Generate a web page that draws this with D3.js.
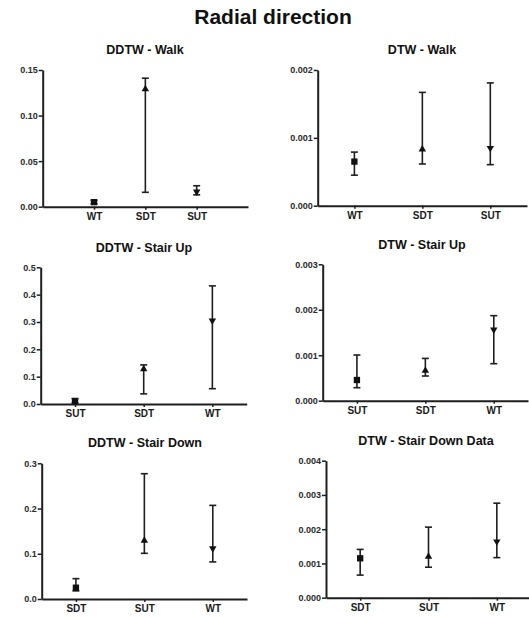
<!DOCTYPE html>
<html>
<head>
<meta charset="utf-8">
<script src="https://cdn.jsdelivr.net/npm/d3@7"></script>
<style>
  body { margin: 0; background: #fff; }
  text { font-family: "Liberation Sans", Arial, sans-serif; font-weight: bold; }
</style>
</head>
<body>
<div id="chart"></div>
<script>
// Chart data, one entry per panel
var titles = ["DDTW - Walk", "DTW - Walk", "DDTW - Stair Up", "DTW - Stair Up", "DDTW - Stair Down", "DTW - Stair Down Data"];
var categories = [
    ["WT", "SDT", "SUT"],
    ["WT", "SDT", "SUT"],
    ["SUT", "SDT", "WT"],
    ["SUT", "SDT", "WT"],
    ["SDT", "SUT", "WT"],
    ["SDT", "SUT", "WT"]
];
var means = [
    [0.005, 0.129, 0.0165],
    [0.00065, 0.00083, 0.00085],
    [0.01, 0.128, 0.305],
    [0.000455, 0.00066, 0.00156],
    [0.025, 0.129, 0.112],
    [0.00115, 0.0012, 0.00164]
];
var lows = [
    [0.003, 0.0158, 0.013],
    [0.00045, 0.000615, 0.000605],
    [0.004, 0.037, 0.056],
    [0.000286, 0.000543, 0.000814],
    [0.018, 0.101, 0.082],
    [0.00066, 0.00089, 0.00117]
];
var highs = [
    [0.007, 0.141, 0.023],
    [0.00079, 0.00167, 0.00181],
    [0.02, 0.143, 0.432],
    [0.001005, 0.00093, 0.00187],
    [0.045, 0.277, 0.207],
    [0.00141, 0.00206, 0.00276]
];
var yTicks = [
    [0, 0.05, 0.10, 0.15],
    [0, 0.001, 0.002],
    [0, 0.1, 0.2, 0.3, 0.4, 0.5],
    [0, 0.001, 0.002, 0.003],
    [0, 0.1, 0.2, 0.3],
    [0, 0.001, 0.002, 0.003, 0.004]
];
var tickFormats = [".2f", ".3f", ".1f", ".3f", ".1f", ".3f"];

// Layout of each panel box
var layout = [
    {left: 42.7, right: 248, top: 70, bottom: 206.7, pad: 1, tx: 145, ty: 54},
    {left: 317.7, right: 527, top: 70, bottom: 205.7, pad: 0.54, tx: 422, ty: 54},
    {left: 40.7, right: 246.7, top: 267.3, bottom: 404, pad: 0.5, tx: 144, ty: 252},
    {left: 322.7, right: 528, top: 264.3, bottom: 400.7, pad: 0.5, tx: 422, ty: 249},
    {left: 41.7, right: 247, top: 463.3, bottom: 599, pad: 0.5, tx: 145, ty: 447},
    {left: 326, right: 531, top: 460.7, bottom: 597.7, pad: 0.5, tx: 426, ty: 445}
];

var svgWidth = 529;
var svgHeight = 617;
var ink = "#1e1e1e";

var svg = d3.select("#chart").append("svg")
    .attr("width", svgWidth)
    .attr("height", svgHeight);

//Main title
svg.append("text")
    .attr("x", 273)
    .attr("y", 24)
    .attr("text-anchor", "middle")
    .style("font-size", "21px")
    .style("fill", "#111")
    .text("Radial direction");

var symbols = [
    d3.symbol().type(d3.symbolSquare).size(40),
    d3.symbol().type(d3.symbolTriangle).size(24),
    d3.symbol().type(d3.symbolTriangle).size(24)
];

titles.forEach(function(title, p) {
    var box = layout[p];
    var ticks = yTicks[p];

    var xScale = d3.scalePoint()
        .domain(categories[p])
        .range([box.left, box.right])
        .padding(box.pad);

    var yScale = d3.scaleLinear()
        .domain([0, d3.max(ticks)])
        .range([box.bottom, box.top]);

    var g = svg.append("g");

    //Panel title
    g.append("text")
        .attr("x", box.tx)
        .attr("y", box.ty)
        .attr("text-anchor", "middle")
        .style("font-size", "12.5px")
        .style("fill", "#111")
        .text(title);

    //Y axis
    var leftAxis = d3.axisLeft(yScale)
        .tickValues(ticks)
        .tickFormat(d3.format(tickFormats[p]))
        .tickSize(4)
        .tickPadding(1)
        .tickSizeOuter(0);

    var yAxis = g.append("g")
        .attr("transform", `translate(${box.left}, 0)`)
        .call(leftAxis);

    //X axis
    var bottomAxis = d3.axisBottom(xScale)
        .tickSize(3)
        .tickPadding(3)
        .tickSizeOuter(0);

    var xAxis = g.append("g")
        .attr("transform", `translate(0, ${box.bottom})`)
        .call(bottomAxis);

    [yAxis, xAxis].forEach(function(ax) {
        ax.select(".domain").attr("stroke", ink).attr("stroke-width", 2);
        ax.selectAll(".tick line").attr("stroke", ink).attr("stroke-width", 1.5);
        ax.selectAll(".tick text")
            .style("font-size", "9px")
            .style("font-family", "'Liberation Sans', Arial, sans-serif")
            .style("font-weight", "bold")
            .attr("fill", "#2a2a2a");
    });
    xAxis.selectAll(".tick text").style("font-size", "10px").attr("fill", "#1a1a1a");

    //Error bars
    var bars = g.selectAll(".bar")
        .data(categories[p])
        .enter()
        .append("g")
        .attr("class", "bar");

    bars.append("line")
        .attr("x1", d => xScale(d))
        .attr("x2", d => xScale(d))
        .attr("y1", (d, i) => yScale(lows[p][i]))
        .attr("y2", (d, i) => yScale(highs[p][i]))
        .attr("stroke", ink)
        .attr("stroke-width", 1.6);

    [lows[p], highs[p]].forEach(function(vals) {
        bars.append("line")
            .attr("x1", d => xScale(d) - 3.5)
            .attr("x2", d => xScale(d) + 3.5)
            .attr("y1", (d, i) => yScale(vals[i]))
            .attr("y2", (d, i) => yScale(vals[i]))
            .attr("stroke", ink)
            .attr("stroke-width", 1.6);
    });

    //Markers
    bars.append("path")
        .attr("d", (d, i) => symbols[i]())
        .attr("transform", (d, i) => `translate(${xScale(d)}, ${yScale(means[p][i])})` + (i === 2 ? " rotate(180)" : ""))
        .attr("fill", "#111");
});
</script>
</body>
</html>
